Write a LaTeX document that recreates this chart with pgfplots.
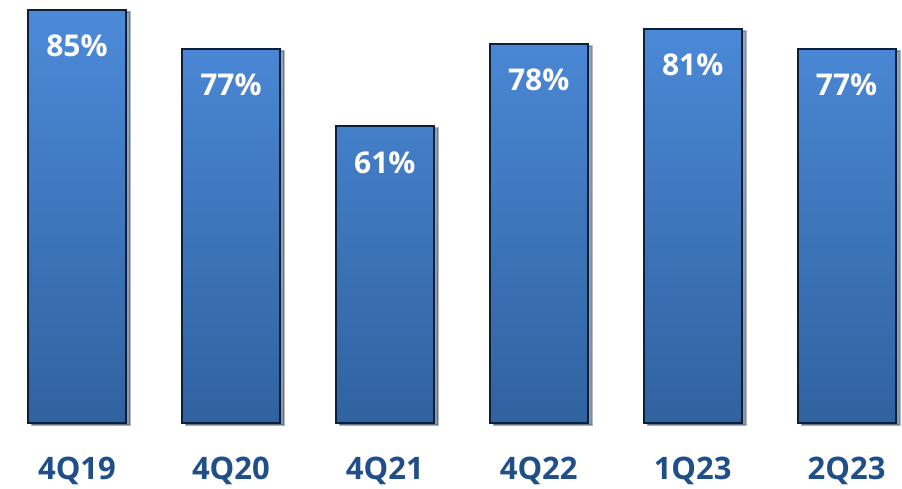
\documentclass[border=0pt]{standalone}
\usepackage{fontspec}
\setmainfont{Open Sans}
\usepackage{pgfplots}
\pgfplotsset{compat=1.18}
\usetikzlibrary{shadows}
\definecolor{bartop}{HTML}{4C8AD9}
\definecolor{barbot}{HTML}{30629F}
\definecolor{barborder}{HTML}{0C1F38}
\definecolor{labblue}{HTML}{1F4E89}
\begin{document}
\begin{tikzpicture}[x=1pt,y=1pt]
\begin{axis}[
  at={(0,0)}, anchor=south west,
  scale only axis,
  width=902pt, height=423pt,
  xmin=-0.5, xmax=5.36,
  ymin=0, ymax=87,
  ybar, bar width=98pt,
  axis line style={draw=none},
  major tick length=0pt,
  ytick=\empty,
  xtick=data,
  xticklabels={4Q19,4Q20,4Q21,4Q22,1Q23,2Q23},
  xticklabel style={font=\fontsize{31}{33}\selectfont\bfseries, text=labblue, yshift=-30pt},
  /pgf/number format/assume math mode=true,
  nodes near coords={\pgfmathprintnumber{\pgfplotspointmeta}\%},
  every node near coord/.append style={font=\fontsize{30}{32}\selectfont\bfseries, text=white, anchor=center, yshift=-36pt},
  clip=false,
]
\addplot[draw=barborder, line width=2pt, top color=bartop, bottom color=barbot,
  drop shadow={shadow xshift=4pt, shadow yshift=-2pt, opacity=0.3, fill=black}]
  coordinates {(0,85) (1,77) (2,61) (3,78) (4,81) (5,77)};
\end{axis}
\pgfresetboundingbox
\path[use as bounding box] (0,-65) rectangle (902,423);
\end{tikzpicture}
\end{document}
